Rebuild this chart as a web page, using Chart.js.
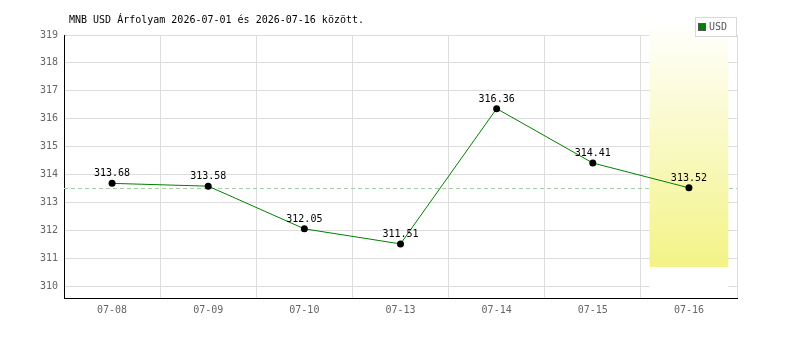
<!DOCTYPE html>
<html lang="hu">
<head>
  <meta charset="UTF-8" />
  <script src="https://cdn.jsdelivr.net/npm/chart.js@4.4.1/dist/chart.umd.min.js"></script>
  <title>MNB USD árfolyam</title>
  <style>
    html, body { margin: 0; padding: 0; background: #fff; }
  </style>
</head>
<body>
  <canvas id="grafico" width="800" height="340"></canvas>
  <script>
    const chartTitle = 'MNB USD Árfolyam 2026-07-01 és 2026-07-16 között.';
    const seriesLabel = 'USD';
    const dates = ['07-08', '07-09', '07-10', '07-13', '07-14', '07-15', '07-16'];
    const usdRates = [313.68, 313.58, 312.05, 311.51, 316.36, 314.41, 313.52];
    const yMin = 309.57;
    const yMax = 319;
    // kiemelt oszlop az utolsó napra (alja fehér, felette sárga átmenet)
    const bandRange = [309.57, 319.54];
    const bandFillFrom = 310.68;

    const mono = '"DejaVu Sans Mono", monospace';

    const bandData = dates.map((d, i) => i === dates.length - 1 ? bandRange : null);

    function bandColor(ctx) {
      const chart = ctx.chart;
      const y = chart.scales.y;
      if (!chart.chartArea || !y) return '#f3f38a';
      const top = y.getPixelForValue(bandRange[1]);
      const bottom = y.getPixelForValue(bandRange[0]);
      const fill = y.getPixelForValue(bandFillFrom);
      if (!isFinite(top) || !isFinite(bottom) || bottom <= top) return '#f3f38a';
      const f = Math.min(1, Math.max(0, (fill - top) / (bottom - top)));
      const g = chart.ctx.createLinearGradient(0, top, 0, bottom);
      g.addColorStop(0, '#ffffff');
      g.addColorStop(f, '#f3f387');
      g.addColorStop(f, '#ffffff');
      g.addColorStop(1, '#ffffff');
      return g;
    }

    const extras = {
      id: 'extras',
      beforeDatasetsDraw(chart) {
        // szaggatott vonal az utolsó értéknél
        const { ctx, chartArea } = chart;
        const yPix = chart.scales.y.getPixelForValue(usdRates[usdRates.length - 1]);
        ctx.save();
        ctx.strokeStyle = '#a6cfa6';
        ctx.lineWidth = 1;
        ctx.setLineDash([4, 3]);
        ctx.beginPath();
        ctx.moveTo(chartArea.left, Math.round(yPix) + 0.5);
        ctx.lineTo(chartArea.right, Math.round(yPix) + 0.5);
        ctx.stroke();
        ctx.restore();
      },
      afterDatasetsDraw(chart) {
        const { ctx } = chart;
        const meta = chart.getDatasetMeta(1);
        ctx.save();
        ctx.font = '10px ' + mono;
        ctx.fillStyle = '#000';
        ctx.textAlign = 'center';
        ctx.textBaseline = 'alphabetic';
        meta.data.forEach((pt, i) => {
          ctx.fillText(usdRates[i].toFixed(2), pt.x, pt.y - 7);
        });
        ctx.restore();
      },
      afterDraw(chart) {
        const { ctx, chartArea } = chart;
        ctx.save();
        // cím
        ctx.font = '10px ' + mono;
        ctx.fillStyle = '#000';
        ctx.textAlign = 'left';
        ctx.textBaseline = 'middle';
        ctx.fillText(chartTitle, 69, 20);
        // jelmagyarázat
        const bx = chartArea.right - 42, by = 17;
        ctx.fillStyle = '#fff';
        ctx.fillRect(bx, by, 42, 20);
        ctx.strokeStyle = '#d8d8d8';
        ctx.lineWidth = 1;
        ctx.strokeRect(bx + 0.5, by + 0.5, 41, 19);
        ctx.fillStyle = '#008000';
        ctx.fillRect(bx + 4, by + 7, 6, 6);
        ctx.strokeStyle = '#555';
        ctx.strokeRect(bx + 3.5, by + 6.5, 7, 7);
        ctx.fillStyle = '#555';
        ctx.fillText(seriesLabel, bx + 14, by + 10.5);
        ctx.restore();
      }
    };

    new Chart(document.getElementById('grafico'), {
      data: {
        labels: dates,
        datasets: [
          {
            type: 'bar',
            label: 'kiemelés',
            data: bandData,
            backgroundColor: bandColor,
            borderWidth: 0,
            categoryPercentage: 1,
            barPercentage: 0.82,
            clip: false,
            order: 2
          },
          {
            type: 'line',
            label: seriesLabel,
            data: usdRates,
            borderColor: '#008000',
            borderWidth: 1,
            pointRadius: 3.5,
            pointBackgroundColor: '#000',
            pointBorderColor: '#000',
            pointBorderWidth: 0,
            tension: 0,
            order: 1
          }
        ]
      },
      options: {
        responsive: false,
        animation: false,
        layout: { padding: { top: 35, right: 63, left: 0, bottom: 0 } },
        plugins: {
          legend: { display: false },
          title: { display: false },
          tooltip: { enabled: false }
        },
        scales: {
          x: {
            offset: true,
            grid: { offset: true, color: '#dddddd', drawTicks: false },
            border: { color: '#000', width: 1 },
            ticks: { color: '#666', font: { family: mono, size: 10 }, padding: 6 },
            afterFit(scale) { scale.height = 42; }
          },
          y: {
            min: yMin,
            max: yMax,
            grid: { color: '#dddddd', drawTicks: false },
            border: { color: '#000', width: 1 },
            ticks: {
              stepSize: 1,
              includeBounds: false,
              color: '#666',
              font: { family: mono, size: 10 },
              padding: 6
            },
            afterFit(scale) { scale.width = 64; }
          }
        }
      },
      plugins: [extras]
    });
  </script>
</body>
</html>
